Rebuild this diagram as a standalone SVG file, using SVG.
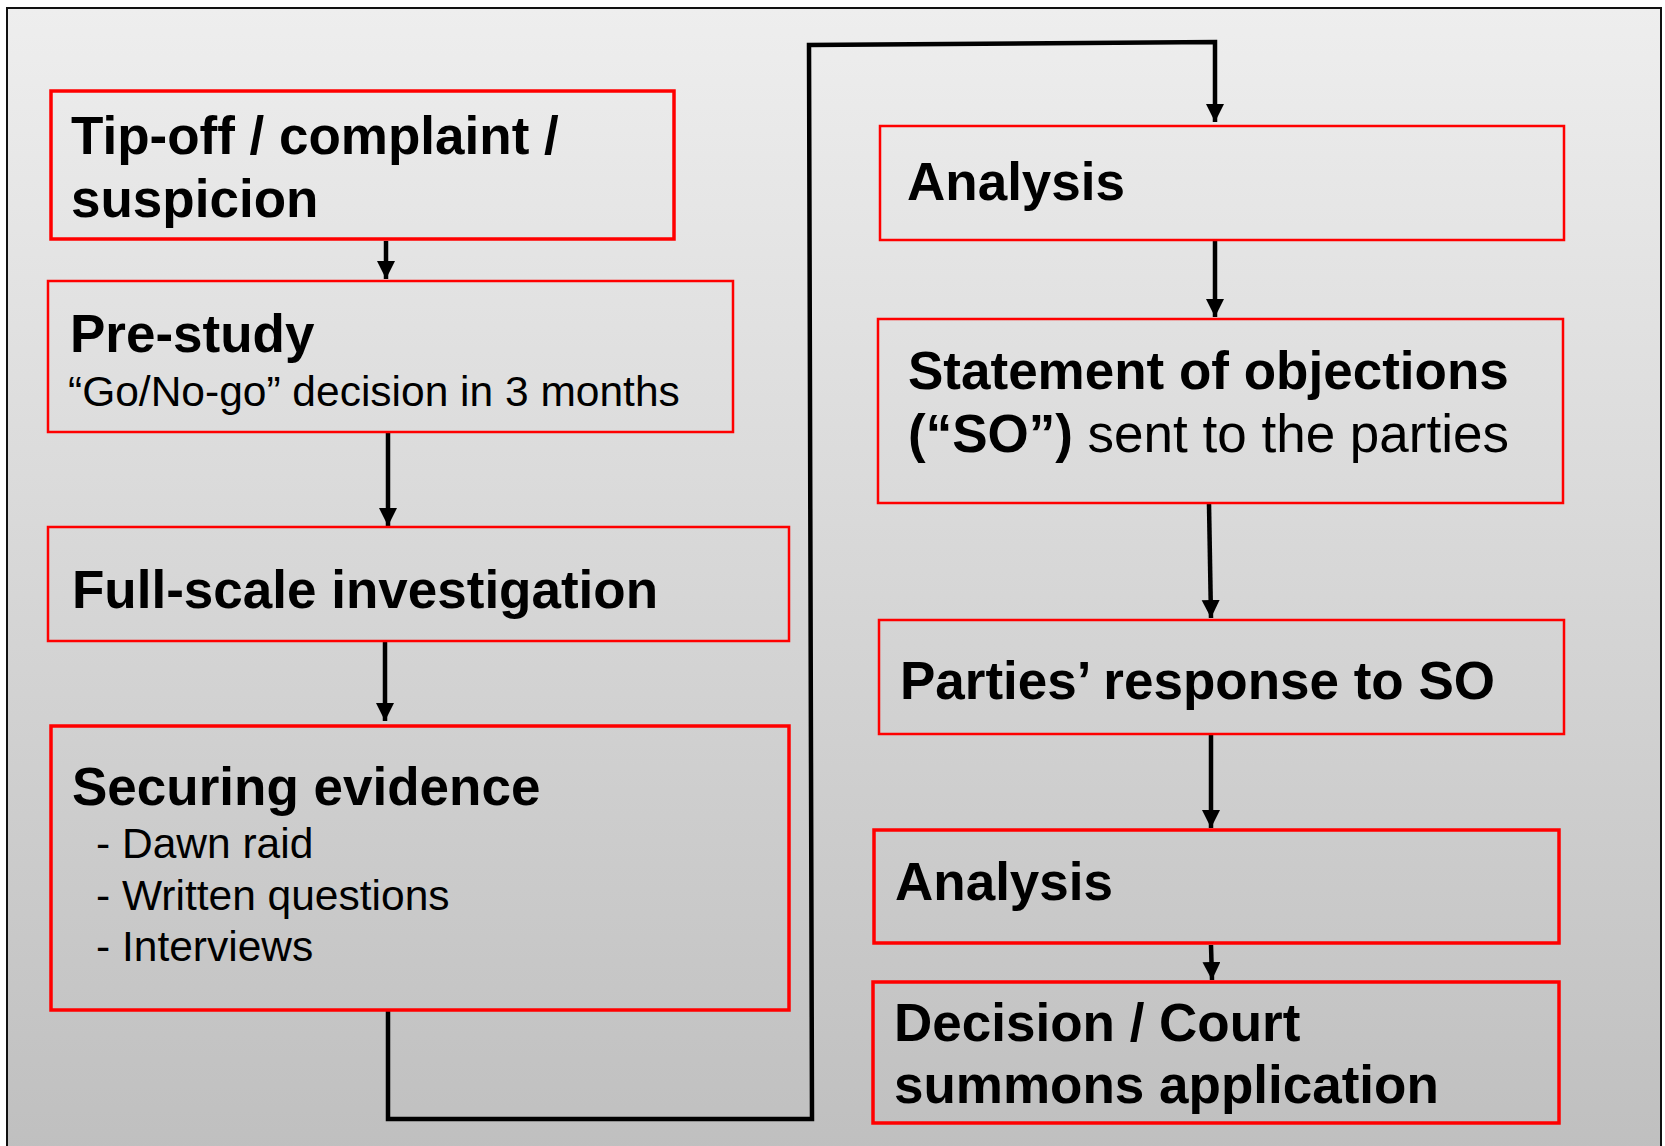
<svg xmlns="http://www.w3.org/2000/svg" width="1665" height="1146" viewBox="0 0 1665 1146">
<defs>
<linearGradient id="bg" x1="0" y1="0" x2="0" y2="1">
<stop offset="0" stop-color="#eeeeee"/>
<stop offset="1" stop-color="#bfbfbf"/>
</linearGradient>
<marker id="ah" markerUnits="userSpaceOnUse" markerWidth="20" markerHeight="20" refX="18" refY="9" orient="auto">
<path d="M0,0 L18,9 L0,18 Z" fill="#000"/>
</marker>
</defs>
<style>
.box{fill:none;stroke:#ff0000;stroke-width:2.5}
.thick{stroke-width:3.5}
.b{font-family:"Liberation Sans",Arial,sans-serif;font-weight:bold;font-size:53px;fill:#000}
.r{font-family:"Liberation Sans",Arial,sans-serif;font-size:42.5px;fill:#000}
.rl{font-family:"Liberation Sans",Arial,sans-serif;font-size:53px;font-weight:normal}
.c{fill:none;stroke:#000;stroke-width:4.5}
</style>
<rect x="0" y="0" width="1665" height="1146" fill="#ffffff"/>
<rect x="7" y="8" width="1654" height="1150" fill="url(#bg)" stroke="#111" stroke-width="2"/>

<g id="connectors">
<line class="c" x1="386" y1="241" x2="386" y2="279" marker-end="url(#ah)"/>
<line class="c" x1="388" y1="433" x2="388" y2="526" marker-end="url(#ah)"/>
<line class="c" x1="385" y1="642" x2="385" y2="721" marker-end="url(#ah)"/>
<path class="c" d="M388,1011 L388,1119 L812,1119 L809,45 L1215,42 L1215,122" marker-end="url(#ah)"/>
<line class="c" x1="1215" y1="241" x2="1215" y2="317" marker-end="url(#ah)"/>
<line class="c" x1="1209" y1="504" x2="1211" y2="618" marker-end="url(#ah)"/>
<line class="c" x1="1211" y1="735" x2="1211" y2="828" marker-end="url(#ah)"/>
<line class="c" x1="1211" y1="945" x2="1212" y2="980" marker-end="url(#ah)"/>
</g>

<g id="tipoff">
<rect class="box thick" x="51" y="91" width="623" height="148"/>
<text class="b" x="71" y="154">Tip-off / complaint /</text>
<text class="b" x="71" y="217">suspicion</text>
</g>
<g id="prestudy">
<rect class="box" x="48" y="281" width="685" height="151"/>
<text class="b" x="70" y="352">Pre-study</text>
<text class="r" x="68" y="406">“Go/No-go” decision in 3 months</text>
</g>
<g id="fullscale">
<rect class="box" x="48" y="527" width="741" height="114"/>
<text class="b" x="72" y="608">Full-scale investigation</text>
</g>
<g id="securing">
<rect class="box thick" x="51" y="726" width="738" height="284"/>
<text class="b" x="72" y="805">Securing evidence</text>
<text class="r" x="96" y="858">- Dawn raid</text>
<text class="r" x="96" y="910">- Written questions</text>
<text class="r" x="96" y="961">- Interviews</text>
</g>
<g id="analysis1">
<rect class="box" x="880" y="126" width="684" height="114"/>
<text class="b" x="907" y="200">Analysis</text>
</g>
<g id="so">
<rect class="box" x="878" y="319" width="685" height="184"/>
<text class="b" x="908" y="389">Statement of objections</text>
<text class="b" x="908" y="452">(“SO”)<tspan class="rl"> sent to the parties</tspan></text>
</g>
<g id="parties">
<rect class="box" x="879" y="620" width="685" height="114"/>
<text class="b" x="900" y="699">Parties’ response to SO</text>
</g>
<g id="analysis2">
<rect class="box thick" x="874" y="830" width="685" height="113"/>
<text class="b" x="895" y="900">Analysis</text>
</g>
<g id="decision">
<rect class="box thick" x="873" y="982" width="686" height="141"/>
<text class="b" x="894" y="1041">Decision / Court</text>
<text class="b" x="894" y="1103">summons application</text>
</g>
</svg>
